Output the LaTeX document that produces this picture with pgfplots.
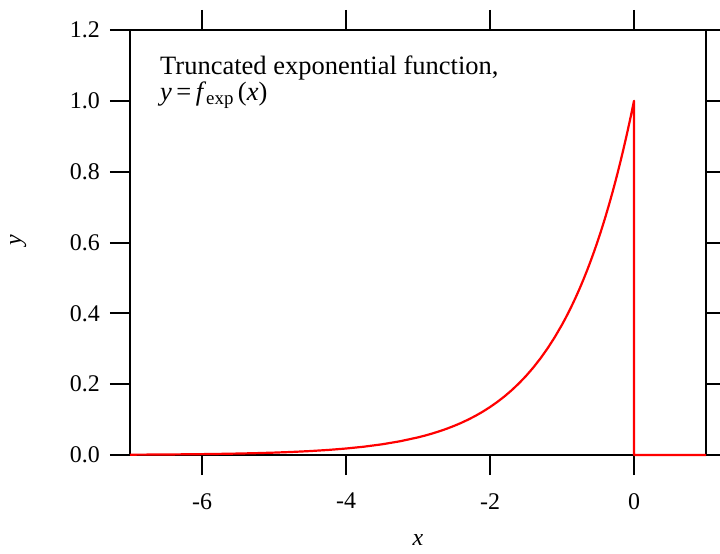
\documentclass[border=0pt]{standalone}
\usepackage{pgfplots}
\pgfplotsset{compat=1.18}
\usepackage{fontspec}
\setmainfont{Liberation Serif}

\begin{document}
\fontsize{24}{29}\selectfont
\begin{tikzpicture}
\begin{axis}[
    name=main,
    scale only axis,
    width=576bp, height=425bp,
    xmin=-7, xmax=1, ymin=0, ymax=1.2,
    xtick={-6,-4,-2,0},
    xticklabels={-6,-4,-2,0},
    ytick={0,0.2,0.4,0.6,0.8,1.0,1.2},
    yticklabels={0.0,0.2,0.4,0.6,0.8,1.0,1.2},
    minor tick num=0,
    tick align=outside,
    major tick length=20bp,
    every tick/.style={black, line width=2bp},
    axis line style={black, line width=2bp},
    tick label style={font=\fontsize{24}{29}\selectfont},
    xticklabel style={yshift=-10bp},
    yticklabel style={xshift=-2bp},
    xlabel={\textit{x}},
    ylabel={\textit{y}},
    label style={font=\fontsize{24}{29}\selectfont},
    every axis x label/.style={at={(axis description cs:0.5,-0.2)}, anchor=center},
    every axis y label/.style={at={(axis description cs:-0.194,0.506)}, rotate=90, anchor=center},
    clip=false,
]
% truncated exponential: exp(x) for x <= 0, zero for x > 0
\addplot[red, line width=2.2bp, line join=round] coordinates {
    (-7,0.000912) (-6.75,0.001171) (-6.5,0.001503) (-6.25,0.001930)
    (-6,0.002479) (-5.75,0.003183) (-5.5,0.004087) (-5.25,0.005248)
    (-5,0.006738) (-4.75,0.008652) (-4.5,0.011109) (-4.25,0.014264)
    (-4,0.018316) (-3.75,0.023518) (-3.5,0.030197) (-3.25,0.038774)
    (-3.0,0.049787) (-2.9,0.055023) (-2.8,0.060810) (-2.7,0.067206)
    (-2.6,0.074274) (-2.5,0.082085) (-2.4,0.090718) (-2.3,0.100259)
    (-2.2,0.110803) (-2.1,0.122456) (-2.0,0.135335) (-1.9,0.149569)
    (-1.8,0.165299) (-1.7,0.182684) (-1.6,0.201897) (-1.5,0.223130)
    (-1.4,0.246597) (-1.3,0.272532) (-1.2,0.301194) (-1.1,0.332871)
    (-1.0,0.367879) (-0.95,0.386741) (-0.9,0.406570) (-0.85,0.427415)
    (-0.8,0.449329) (-0.75,0.472367) (-0.7,0.496585) (-0.65,0.522046)
    (-0.6,0.548812) (-0.55,0.576950) (-0.5,0.606531) (-0.45,0.637628)
    (-0.4,0.670320) (-0.35,0.704688) (-0.3,0.740818) (-0.25,0.778801)
    (-0.2,0.818731) (-0.15,0.860708) (-0.1,0.904837) (-0.05,0.951229)
    (0,1.0) (0,0) (1,0)
};
\node[anchor=base west, inner sep=0pt, font=\fontsize{26.6}{32}\selectfont]
    at (axis cs:-6.583,1.073) {Truncated exponential function,};
\node[anchor=base west, inner sep=0pt, font=\fontsize{26.6}{32}\selectfont]
    at (axis cs:-6.583,1.002) {\textit{y}\,=\,\textit{f}\raisebox{-0.35ex}{\fontsize{19}{22}\selectfont exp}\,(\textit{x})};
\end{axis}
\pgfresetboundingbox
\path[use as bounding box] ([xshift=-130bp,yshift=-98bp]main.south west) rectangle ([xshift=14bp,yshift=30bp]main.north east);
\end{tikzpicture}
\end{document}
